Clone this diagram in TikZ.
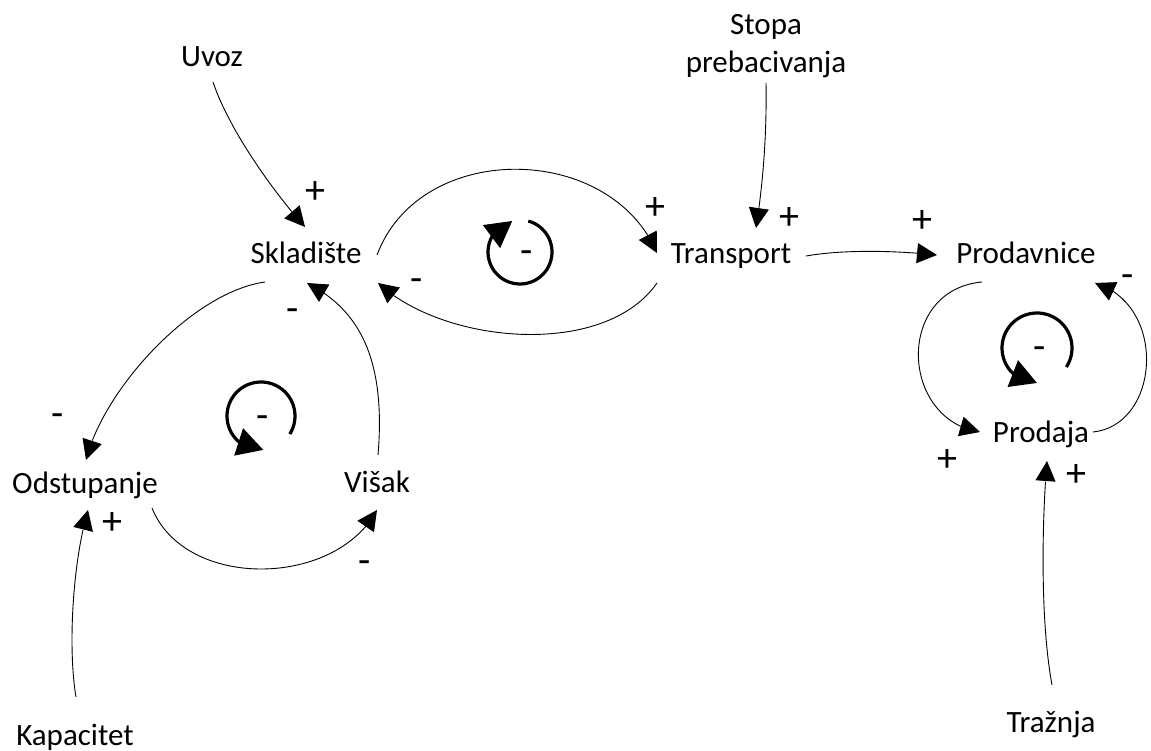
\documentclass[tikz,border=0pt]{standalone}
\usepackage{fontspec}
\setmainfont{Carlito}
\usetikzlibrary{arrows.meta,bending,calc}
\tikzset{
  var/.style={inner sep=0pt, font=\fontsize{31}{38}\selectfont, anchor=base},
  sign/.style={inner sep=0pt, font=\fontsize{40}{40}\selectfont, anchor=mid, yshift=-5pt},
  link/.style={line width=0.9pt, -{Triangle[length=20pt,width=20pt]}},
  loopmark/.style={line width=3.2pt, -{Triangle[length=26pt,width=28pt,flex]}},
}
\begin{document}
\begin{tikzpicture}[x=1pt,y=-1pt]
\useasboundingbox (0,0) rectangle (1151,751);

% variables
\node[var] (uvoz) at (212,67) {Uvoz};
\node[inner sep=0pt, font=\fontsize{31}{38}\selectfont, align=center] (stopa) at (766,46) {Stopa\\prebacivanja};
\node[var] (skl) at (306,264) {Skladište};
\node[var] (trans) at (731,264) {Transport};
\node[var] (prod) at (1026,264) {Prodavnice};
\node[var] (prodaja) at (1041,442) {Prodaja};
\node[var] (odst) at (85,493) {Odstupanje};
\node[var] (visak) at (377,492) {Višak};
\node[var] (kap) at (75,745) {Kapacitet};
\node[var] (traz) at (1051,732) {Tražnja};

% causal links
\draw[link] ($(uvoz.base)+(1,15)$) .. controls (228,127) and (270,188) .. ($(skl.base)+(-1,-37)$);
\draw[link] ($(skl.base)+(71,-9)$) .. controls (420,140) and (610,142) .. ($(trans.base)+(-74,-11)$);
\draw[link] ($(trans.base)+(-74,19)$) .. controls (605,358) and (445,345) .. ($(skl.base)+(72,19)$);
\draw[link] ($(skl.base)+(-41,18)$) .. controls (193,292) and (104,388) .. ($(odst.base)+(1,-33)$);
\draw[link] ($(visak.base)+(1,-37)$) .. controls (386,360) and (360,310) .. ($(skl.base)+(1,19)$);
\draw[link] ($(odst.base)+(67,15)$) .. controls (185,590) and (335,588) .. ($(visak.base)+(0,18)$);
\draw[link] ($(kap.base)+(1,-48)$) .. controls (68,650) and (72,565) .. ($(odst.base)+(3,17)$);
\draw[link] ($(stopa.center)+(0,37)$) .. controls (767,140) and (762,190) .. ($(trans.base)+(25,-36)$);
\draw[link] ($(trans.base)+(75,-8)$) .. controls (840,250) and (890,250) .. ($(prod.base)+(-89,-9)$);
\draw[link] ($(prod.base)+(-44,18)$) .. controls (895,290) and (900,420) .. ($(prodaja.base)+(-61,-10)$);
\draw[link] ($(prodaja.base)+(52,-10)$) .. controls (1160,425) and (1168,305) .. ($(prod.base)+(69,19)$);
\draw[link] ($(traz.base)+(1,-47)$) .. controls (1040,620) and (1042,520) .. ($(prodaja.base)+(6,19)$);

% loop markers
\coordinate (l1) at (520,252);
\coordinate (l2) at (261,416);
\coordinate (l3) at (1037,348);
\draw[loopmark] ($(l1)+(-75:32)$) arc[start angle=-75, end angle=256, radius=32];
\draw[loopmark] ($(l2)+(32:34)$) arc[start angle=32, end angle=-274, radius=34];
\draw[loopmark] ($(l3)+(33:35)$) arc[start angle=33, end angle=-270, radius=35];

% polarities
\node[sign] (s1) at (315,196) {+};
\node[sign] (s2) at (655,212) {+};
\node[sign] (s3) at (417,284) {-};
\node[sign] (s4) at (527,256) {-};
\node[sign] (s5) at (789,222) {+};
\node[sign] (s6) at (922,225) {+};
\node[sign] (s7) at (1128,280) {-};
\node[sign] (s8) at (1040,352) {-};
\node[sign] (s9) at (947,464) {+};
\node[sign] (s10) at (1076,479) {+};
\node[sign] (s11) at (293,314) {-};
\node[sign] (s12) at (58,419) {-};
\node[sign] (s13) at (263,421) {-};
\node[sign] (s14) at (112,527) {+};
\node[sign] (s15) at (365,566) {-};
\end{tikzpicture}
\end{document}
